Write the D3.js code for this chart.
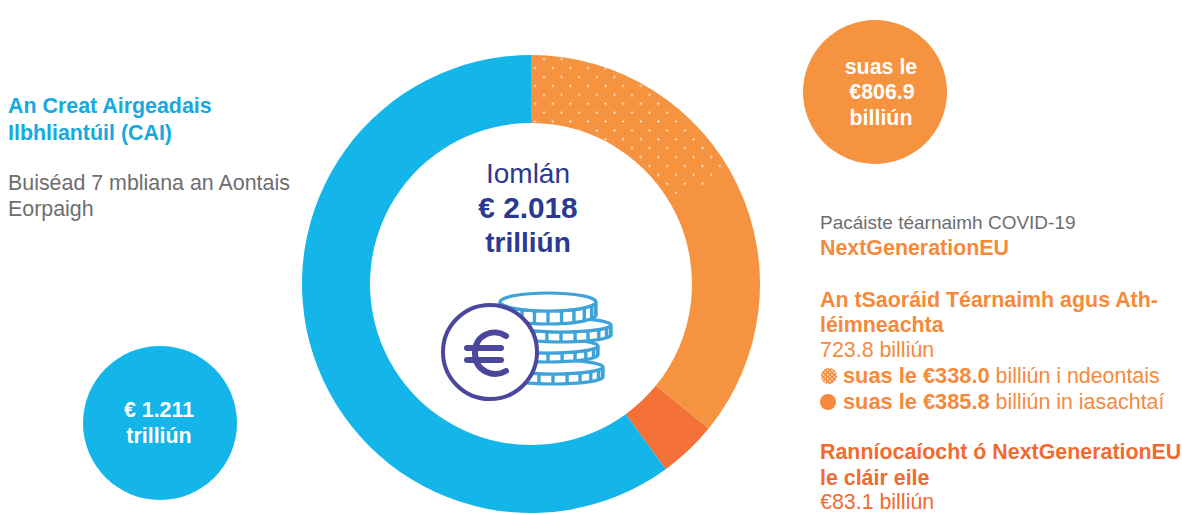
<!DOCTYPE html>
<html>
<head>
<meta charset="utf-8">
<script src="https://cdn.jsdelivr.net/npm/d3@7"></script>
<style>
  html, body { margin: 0; padding: 0; background: #fff; overflow: hidden; }
  text { font-family: "Liberation Sans", Arial, sans-serif; }
</style>
</head>
<body>
<div id="vis"></div>
<script>
const categories = ['CAI', 'Deontais', 'Iasachtaí', 'Ranníocaíocht']
const values = [1211, 338.0, 385.8, 83.1]
// order round the ring, clockwise from 12 o'clock
const ringOrder = ['Deontais', 'Iasachtaí', 'Ranníocaíocht', 'CAI']
const colors = ['#14b5e8', '#f59340', '#f59340', '#f37037']

const blue = '#14a9e0'
const navy = '#2b3990'
const grey = '#6d6e71'
const orange = '#f58a3c'
const red = '#f26a30'
const indigo = '#4b479c'

const width = 1182
const height = 514
const cx = 531
const cy = 284

const svg = d3.select('#vis').append('svg')
  .attr('width', width)
  .attr('height', height)

const defs = svg.append('defs')

// staggered white dots for the grants slice
const dots = defs.append('pattern')
  .attr('id', 'dots')
  .attr('patternUnits', 'userSpaceOnUse')
  .attr('x', 541 - 4.4)
  .attr('y', 60 - 4.45)
  .attr('width', 17.6)
  .attr('height', 17.8)
dots.append('circle').attr('cx', 4.4).attr('cy', 4.45).attr('r', 1).attr('fill', '#fff')
dots.append('circle').attr('cx', 13.2).attr('cy', 13.35).attr('r', 1).attr('fill', '#fff')

const swatch = defs.append('pattern')
  .attr('id', 'swatch')
  .attr('patternUnits', 'userSpaceOnUse')
  .attr('x', 820)
  .attr('y', 367)
  .attr('width', 4.4)
  .attr('height', 4.4)
swatch.append('rect').attr('width', 4.4).attr('height', 4.4).attr('fill', orange)
swatch.append('circle').attr('cx', 1.1).attr('cy', 1.1).attr('r', 0.8).attr('fill', '#fff')
swatch.append('circle').attr('cx', 3.3).attr('cy', 3.3).attr('r', 0.8).attr('fill', '#fff')

defs.append('filter').attr('id', 'soft')
  .append('feGaussianBlur').attr('stdDeviation', 0.45)

// ring
const byName = new Map(categories.map((c, i) => [c, { name: c, value: values[i], color: colors[i] }]))
const pie = d3.pie().sort(null).value(d => d.value)
const arc = d3.arc().innerRadius(161).outerRadius(229)
const slices = pie(ringOrder.map(n => byName.get(n)))

const ring = svg.append('g').attr('transform', `translate(${cx},${cy})`)

ring.selectAll('path.slice')
  .data(slices.filter(d => d.data.name !== 'Deontais' && d.data.name !== 'Iasachtaí'))
  .join('path')
  .attr('class', 'slice')
  .attr('d', arc)
  .attr('fill', d => d.data.color)

// both orange slices as one piece, so no seam shows where the dots stop
ring.append('path')
  .attr('d', arc({ startAngle: slices[0].startAngle, endAngle: slices[1].endAngle }))
  .attr('fill', colors[1])

ring.append('path')
  .attr('d', arc(slices[0]))
  .attr('fill', 'url(#dots)')

// coins icon
const icon = svg.append('g').attr('fill', '#fff').attr('filter', 'url(#soft)')

function coin(x, y, rx, ry, h) {
  const g = icon.append('g').attr('stroke', '#3ea3d9').attr('stroke-width', 3.2)
  g.append('path').attr('d',
    `M${x - rx},${y} A${rx},${ry} 0 0 0 ${x + rx},${y} L${x + rx},${y + h} A${rx},${ry} 0 0 1 ${x - rx},${y + h} Z`)
  d3.range(11).forEach(i => {
    const a = Math.PI * (i + 0.5) / 11
    const px = x + rx * Math.cos(a)
    const py = y + ry * Math.sin(a)
    g.append('line')
      .attr('x1', px).attr('x2', px)
      .attr('y1', py).attr('y2', py + h)
      .attr('stroke-width', 3.4)
  })
  g.append('ellipse').attr('cx', x).attr('cy', y).attr('rx', rx).attr('ry', ry)
}

coin(553, 367, 50, 7, 10)
coin(548, 346, 50, 7, 9)
coin(561, 325, 50, 7, 10)
coin(548, 302, 48, 9, 13)

icon.append('circle')
  .attr('cx', 490).attr('cy', 352).attr('r', 47)
  .attr('stroke', indigo).attr('stroke-width', 4)

const euro = icon.append('g')
  .attr('fill', 'none')
  .attr('stroke', indigo)
  .attr('stroke-width', 6)
  .attr('stroke-linecap', 'round')
euro.append('path').attr('d', 'M506,336 C494,328 475,334 475,353 C475,372 494,378 506,371')
euro.append('path').attr('d', 'M467,348 H501')
euro.append('path').attr('d', 'M467,360 H501')

// round callouts
svg.append('circle').attr('cx', 875).attr('cy', 92).attr('r', 72).attr('fill', colors[1])
svg.append('circle').attr('cx', 160).attr('cy', 423).attr('r', 77).attr('fill', colors[0])

svg.append('circle').attr('cx', 829).attr('cy', 376).attr('r', 8).attr('fill', 'url(#swatch)')
svg.append('circle').attr('cx', 828).attr('cy', 402).attr('r', 8).attr('fill', orange)

// text: [x, baseline, size, weight, colour, anchor, runs]
const labels = [
  [8, 113, 21.4, 700, blue, 'start', 'An Creat Airgeadais'],
  [8, 140, 21.4, 700, blue, 'start', 'Ilbhliantúil (CAI)'],
  [8, 190, 21.4, 400, grey, 'start', 'Buiséad 7 mbliana an Aontais'],
  [8, 216, 21.4, 400, grey, 'start', 'Eorpaigh'],
  [528, 183, 28, 400, navy, 'middle', 'Iomlán'],
  [528, 218, 29.8, 700, navy, 'middle', '€ 2.018'],
  [528, 252, 28, 700, navy, 'middle', 'trilliún'],
  [881, 74, 21.4, 700, '#fff', 'middle', 'suas le'],
  [882, 99, 21.4, 700, '#fff', 'middle', '€806.9'],
  [881, 125, 21.4, 700, '#fff', 'middle', 'billiún'],
  [159, 417, 21.4, 700, '#fff', 'middle', '€ 1.211'],
  [159, 443, 21.4, 700, '#fff', 'middle', 'trilliún'],
  [820, 229, 19, 400, grey, 'start', 'Pacáiste téarnaimh COVID-19'],
  [820, 255, 21.4, 700, orange, 'start', 'NextGenerationEU'],
  [820, 307, 21.4, 700, orange, 'start', 'An tSaoráid Téarnaimh agus Ath-'],
  [820, 332, 21.4, 700, orange, 'start', 'léimneachta'],
  [820, 357, 21.4, 400, orange, 'start', '723.8 billiún'],
  [843, 383, 21.8, 700, orange, 'start', 'suas le €338.0', ' billiún i ndeontais'],
  [843, 409, 21.8, 700, orange, 'start', 'suas le €385.8', ' billiún in iasachtaí'],
  [820, 459, 21.4, 700, red, 'start', 'Ranníocaíocht ó NextGenerationEU'],
  [820, 485, 21.4, 700, red, 'start', 'le cláir eile'],
  [820, 509.4, 21.4, 400, red, 'start', '€83.1 billiún']
]

labels.forEach(([x, y, size, weight, color, anchor, main, rest]) => {
  const t = svg.append('text')
    .attr('x', x).attr('y', y)
    .attr('font-size', size)
    .attr('font-weight', weight)
    .attr('fill', color)
    .attr('text-anchor', anchor)
  t.append('tspan').text(main)
  if (rest) t.append('tspan').attr('font-weight', 400).attr('font-size', 21.4).text(rest)
})
</script>
</body>
</html>
